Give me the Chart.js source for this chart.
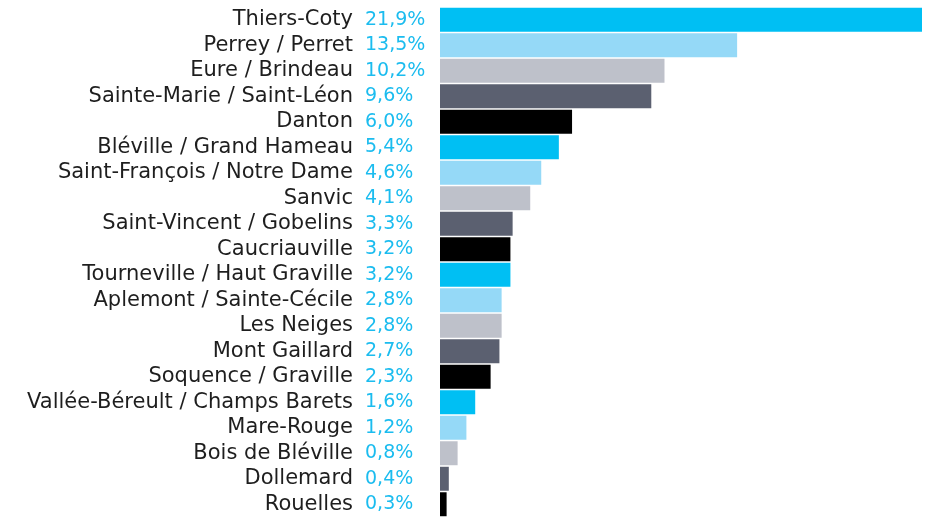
<!DOCTYPE html>
<html>
<head>
<meta charset="utf-8">
<script src="https://cdn.jsdelivr.net/npm/chart.js@4/dist/chart.umd.min.js"></script>
<style>
  html, body { margin: 0; padding: 0; background: #fff; }
</style>
</head>
<body>
<canvas id="quartiers-chart" width="931" height="517"></canvas>
<script>
// quartiers and their share
const quartiers = [
	'Thiers-Coty', 'Perrey / Perret', 'Eure / Brindeau', 'Sainte-Marie / Saint-Léon',
	'Danton', 'Bléville / Grand Hameau', 'Saint-François / Notre Dame', 'Sanvic',
	'Saint-Vincent / Gobelins', 'Caucriauville', 'Tourneville / Haut Graville',
	'Aplemont / Sainte-Cécile', 'Les Neiges', 'Mont Gaillard', 'Soquence / Graville',
	'Vallée-Béreult / Champs Barets', 'Mare-Rouge', 'Bois de Bléville', 'Dollemard', 'Rouelles'
];
const parts = [21.9, 13.5, 10.2, 9.6, 6.0, 5.4, 4.6, 4.1, 3.3, 3.2, 3.2, 2.8, 2.8, 2.7, 2.3, 1.6, 1.2, 0.8, 0.4, 0.3];
const palette = ['#00bff3', '#95d9f7', '#bec1ca', '#5b6070', '#000000'];

const FONT = '"DejaVu Sans", sans-serif';

const fmt = v => v.toFixed(1).replace('.', ',') + '%';

// draws the cyan percentages between names and bars
const percentLabels = {
	id: 'percentLabels',
	afterDatasetsDraw(chart) {
		const c = chart.ctx;
		const meta = chart.getDatasetMeta(0);
		c.save();
		c.font = '19px ' + FONT;
		c.fillStyle = '#1bbcef';
		c.textAlign = 'left';
		c.textBaseline = 'middle';
		meta.data.forEach((bar, i) => {
			c.fillText(fmt(parts[i]), 365, bar.y);
		});
		c.restore();
	}
};

const ctx = document.getElementById('quartiers-chart').getContext('2d');
new Chart(ctx, {
	type: 'bar',
	data: {
		labels: quartiers,
		datasets: [{
			data: parts,
			backgroundColor: parts.map((v, i) => palette[i % palette.length]),
			borderWidth: 0,
			barPercentage: 0.94,
			categoryPercentage: 1
		}]
	},
	options: {
		indexAxis: 'y',
		responsive: false,
		animation: false,
		layout: { padding: { top: 7, right: 9, bottom: 0, left: 0 } },
		plugins: {
			legend: { display: false },
			tooltip: { enabled: false }
		},
		scales: {
			x: {
				display: false,
				min: 0,
				max: 21.9
			},
			y: {
				// fixed width, and no extra top/bottom room from the tick padding
				afterFit: s => {
					s.width = 440;
					s.paddingTop = 0;
					s.paddingBottom = 0;
				},
				grid: { display: false, drawTicks: false },
				border: { display: false },
				ticks: {
					padding: 87,
					autoSkip: false,
					color: '#1e1e1e',
					font: { family: FONT, size: 21 }
				}
			}
		}
	},
	plugins: [percentLabels]
});
</script>
</body>
</html>
